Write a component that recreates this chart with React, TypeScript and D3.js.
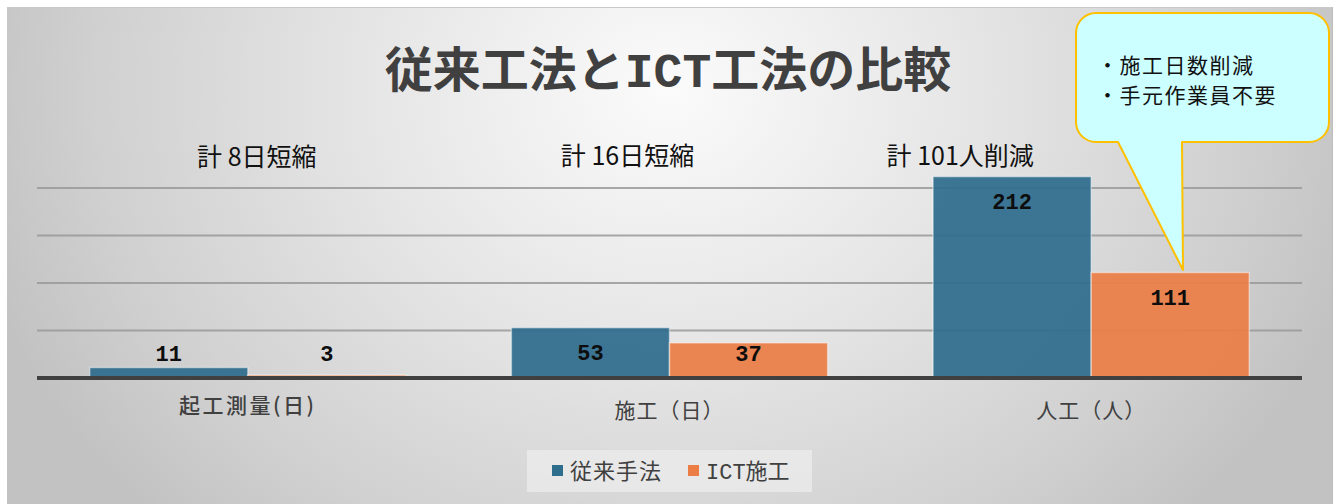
import React from 'react';
import * as d3 from 'd3';

const categories = ['起工測量(日)', '施工（日）', '人工（人）'];
const seriesNames = ['従来手法', 'ICT施工'];
const conventional = [11, 53, 212];
const ictValues = [3, 37, 111];
const yTicks = [50, 100, 150, 200];
const annotations = ['計 8日短縮', '計 16日短縮', '計 101人削減'];
const calloutLines = ['・施工日数削減', '・手元作業員不要'];

const W = 1335;
const H = 504;
const COLORS = ['#2f6d8d', '#eb7d45'];
const CJK = '"Noto Sans CJK JP", "Noto Sans", sans-serif';
const MONO = '"Liberation Mono", "DejaVu Sans Mono", monospace';

const plot = { left: 37, right: 1302, base: 378, top: 140.5 };
const annotationDX = [9, -42, -131];

export default function App() {
  const x = d3.scaleBand<string>().domain(categories).range([plot.left, plot.right]).padding(0);
  const inner = d3
    .scaleBand<number>()
    .domain([0, 1])
    .range([x.bandwidth() * 0.125, x.bandwidth() * 0.875])
    .padding(0);
  const y = d3.scaleLinear().domain([0, 250]).range([plot.base, plot.top]);
  const data = [conventional, ictValues];

  const cb = { l: 1076, r: 1329, t: 13, b: 142, rad: 20, pl: 1118, pr: 1182, tipX: 1183, tipY: 270 };
  const calloutPath = [
    `M${cb.l + cb.rad},${cb.t}`,
    `L${cb.r - cb.rad},${cb.t}`,
    `A${cb.rad},${cb.rad} 0 0 1 ${cb.r},${cb.t + cb.rad}`,
    `L${cb.r},${cb.b - cb.rad}`,
    `A${cb.rad},${cb.rad} 0 0 1 ${cb.r - cb.rad},${cb.b}`,
    `L${cb.pr},${cb.b}`,
    `L${cb.tipX},${cb.tipY}`,
    `L${cb.pl},${cb.b}`,
    `L${cb.l + cb.rad},${cb.b}`,
    `A${cb.rad},${cb.rad} 0 0 1 ${cb.l},${cb.b - cb.rad}`,
    `L${cb.l},${cb.t + cb.rad}`,
    `A${cb.rad},${cb.rad} 0 0 1 ${cb.l + cb.rad},${cb.t}`,
    'Z',
  ].join(' ');

  return (
    <svg
      width={W}
      height={H}
      style={{ position: 'absolute', left: 0, top: 0 }}
      xmlns="http://www.w3.org/2000/svg"
    >
      <defs>
        <radialGradient id="bg" gradientUnits="userSpaceOnUse" cx={668} cy={90} r={720}
          gradientTransform="translate(668 90) scale(1 0.85) translate(-668 -90)">
          <stop offset="0" stopColor="#fbfbfb" />
          <stop offset="0.45" stopColor="#e4e4e4" />
          <stop offset="0.8" stopColor="#d0d0d0" />
          <stop offset="1" stopColor="#c2c2c2" />
        </radialGradient>
      </defs>
      <rect x={0} y={0} width={W} height={H} fill="#ffffff" />
      <rect x={7} y={7} width={1325} height={H - 7} fill="url(#bg)" />
      <line x1={7} x2={1332} y1={7.5} y2={7.5} stroke="#c8c8c8" strokeWidth={1} />
      <line x1={1332.5} x2={1332.5} y1={7} y2={H} stroke="#bdbdbd" strokeWidth={1} />

      {/* title */}
      <text x={668} y={87} textAnchor="middle" fill="#404040" fontWeight="bold" fontSize={48} fontFamily={CJK}>
        <tspan>従来工法と</tspan>
        <tspan fontFamily={MONO}>ICT</tspan>
        <tspan>工法の比較</tspan>
      </text>

      {/* gridlines */}
      {yTicks.map((t) => (
        <line key={t} x1={plot.left} x2={plot.right} y1={y(t)} y2={y(t)} stroke="#9a9a9a" strokeWidth={2} opacity={0.85} />
      ))}

      {/* bars */}
      {categories.map((c, ci) =>
        data.map((vals, si) => {
          const x0 = (x(c) as number) + (inner(si) as number);
          const v = vals[ci];
          return (
            <rect
              key={`${c}-${si}`}
              x={x0}
              y={y(v)}
              width={inner.bandwidth()}
              height={plot.base - y(v)}
              fill={COLORS[si]}
              fillOpacity={0.93}
              stroke="#ffffff"
              strokeOpacity={0.45}
              strokeWidth={1.5}
            />
          );
        })
      )}

      {/* baseline */}
      <line x1={plot.left} x2={plot.right} y1={plot.base} y2={plot.base} stroke="#404040" strokeWidth={4} />

      {/* value labels */}
      {categories.map((c, ci) =>
        data.map((vals, si) => {
          const cx = (x(c) as number) + (inner(si) as number) + inner.bandwidth() / 2;
          const v = vals[ci];
          const ly = Math.min(y(v) + 25, plot.base - 25);
          return (
            <text key={`l-${c}-${si}`} x={cx} y={ly + 7.5} textAnchor="middle" fontFamily={MONO} fontWeight="bold" fontSize={22} fill="#0d0d0d">
              {v}
            </text>
          );
        })
      )}

      {/* category labels */}
      {categories.map((c, ci) => (
        <text
          key={`c-${c}`}
          x={(x(c) as number) + x.bandwidth() / 2}
          y={ci === 0 ? 413 : 418}
          textAnchor="middle"
          fontFamily={CJK}
          fontSize={21}
          fontWeight={ci === 0 ? 500 : 400}
          fill="#404040"
          letterSpacing={ci === 0 ? 2.5 : 1}
        >
          {c}
        </text>
      ))}

      {/* annotations */}
      {annotations.map((a, ci) => (
        <text
          key={`a-${ci}`}
          x={(x(categories[ci]) as number) + x.bandwidth() / 2 + annotationDX[ci]}
          y={ci === 0 ? 166 : 165}
          textAnchor="middle"
          fontFamily={CJK}
          fontSize={25}
          fill="#111111"
        >
          {a}
        </text>
      ))}

      {/* callout */}
      <path d={calloutPath} fill="#ccffff" stroke="#ffc000" strokeWidth={2} strokeLinejoin="round" />
      {calloutLines.map((t, i) => (
        <text key={`co-${i}`} x={1097} y={73 + i * 30} fontFamily={CJK} fontSize={21} fill="#111111" letterSpacing={1.5}>
          {t}
        </text>
      ))}

      {/* legend */}
      <rect x={527} y={450} width={285} height={42} fill="#ececec" opacity={0.75} />
      {seriesNames.map((s, i) => {
        const lx = i === 0 ? 552 : 688;
        return (
          <g key={`lg-${s}`}>
            <rect x={lx} y={465} width={11} height={11} fill={COLORS[i]} />
            <text x={lx + 18} y={479} fontFamily={CJK} fontSize={22} fill="#404040" letterSpacing={i === 0 ? 1 : 0}>
              {i === 1 ? (
                <>
                  <tspan fontFamily={MONO}>ICT</tspan>
                  <tspan>施工</tspan>
                </>
              ) : (
                s
              )}
            </text>
          </g>
        );
      })}
    </svg>
  );
}
